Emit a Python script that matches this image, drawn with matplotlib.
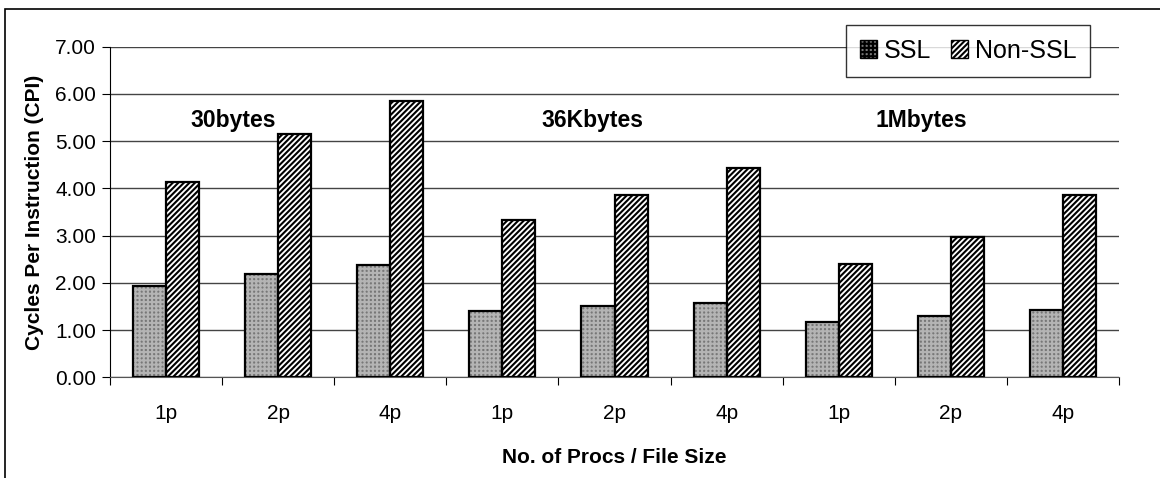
import matplotlib
matplotlib.use("Agg")
import matplotlib.pyplot as plt
from matplotlib.patches import Rectangle, Patch
import numpy as np

plt.rcParams["font.family"] = ["Liberation Sans", "DejaVu Sans"]
plt.rcParams["hatch.linewidth"] = 1.5

# ── data ──────────────────────────────────────────────────────────────────────
procs = ["1p", "2p", "4p", "1p", "2p", "4p", "1p", "2p", "4p"]
ssl = [1.94, 2.18, 2.38, 1.40, 1.50, 1.57, 1.17, 1.29, 1.43]
non_ssl = [4.13, 5.15, 5.86, 3.32, 3.86, 4.44, 2.40, 2.97, 3.85]
groups = ["30bytes", "36Kbytes", "1Mbytes"]
group_x = [0.6, 3.8, 6.74]
group_y = 5.44

SSL_FACE, SSL_HATCH, SSL_PAT = "#777777", "#b4b4b4", "++++"
NON_FACE, NON_HATCH, NON_PAT = "white", "black", "//////"

fig = plt.figure(figsize=(11.6, 4.78), dpi=100)
ax = fig.add_axes([0.0948, 0.2107, 0.8699, 0.6916])

# outer frame (cut off at right / bottom like the source)
fig.add_artist(Rectangle((5 / 1160, -0.1), 1.2, 1 - 9 / 478 + 0.1,
                         transform=fig.transFigure, fill=False,
                         edgecolor="black", lw=1.2, zorder=0))

x = np.arange(len(procs))
w = 0.295

# bars: pattern layer then black outline
ax.bar(x - w / 2, ssl, w, color=SSL_FACE, hatch=SSL_PAT, edgecolor=SSL_HATCH,
       lw=0, zorder=2)
ax.bar(x - w / 2, ssl, w, fill=False, edgecolor="black", lw=1.6, zorder=3)
ax.bar(x + w / 2, non_ssl, w, color=NON_FACE, hatch=NON_PAT,
       edgecolor=NON_HATCH, lw=0, zorder=2)
ax.bar(x + w / 2, non_ssl, w, fill=False, edgecolor="black", lw=1.6, zorder=3)

for g, gx in zip(groups, group_x):
    ax.text(gx, group_y, g, ha="center", va="center", fontsize=16.5,
            fontweight="bold", zorder=4)

ax.set_xlim(-0.5, len(procs) - 0.5)
ax.set_ylim(0, 7)
ax.set_yticks(np.arange(0, 7.01, 1))
ax.set_yticklabels([f"{v:.2f}" for v in np.arange(0, 7.01, 1)], fontsize=15)
ax.yaxis.grid(True, color="#444444", lw=1.0, zorder=1)
ax.set_axisbelow(True)

# category boundaries as ticks, labels at centres
ax.set_xticks(np.arange(-0.5, len(procs), 1))
ax.set_xticklabels([])
ax.set_xticks(x, minor=True)
ax.set_xticklabels(procs, minor=True, fontsize=15)
ax.tick_params(axis="x", which="minor", length=0, pad=19)
ax.tick_params(axis="x", which="major", length=6, direction="out")
ax.tick_params(axis="y", length=6, direction="out", pad=4)

for s in ["top", "right"]:
    ax.spines[s].set_visible(False)
ax.spines["left"].set_color("black")
ax.spines["bottom"].set_color("#555555")

ax.set_ylabel("Cycles Per Instruction (CPI)", fontsize=15, fontweight="bold",
              labelpad=8)
ax.set_xlabel("No. of Procs / File Size", fontsize=15, fontweight="bold",
              labelpad=18)

handles = [Patch(facecolor=SSL_FACE, hatch=SSL_PAT, edgecolor="black", lw=1.0),
           Patch(facecolor=NON_FACE, hatch=NON_PAT, edgecolor="black", lw=1.0)]
leg = fig.legend(handles, ["SSL", "Non-SSL"], ncol=2, fontsize=18,
                 loc="upper right", bbox_to_anchor=(1090 / 1160, 1 - 25 / 478),
                 frameon=True, fancybox=False, shadow=False,
                 handlelength=0.7, handleheight=0.7, handletextpad=0.25,
                 columnspacing=0.8, borderpad=0.55, borderaxespad=0)
leg.get_frame().set_edgecolor("black")
leg.get_frame().set_linewidth(1.0)

fig.savefig("out.png", dpi=100)
